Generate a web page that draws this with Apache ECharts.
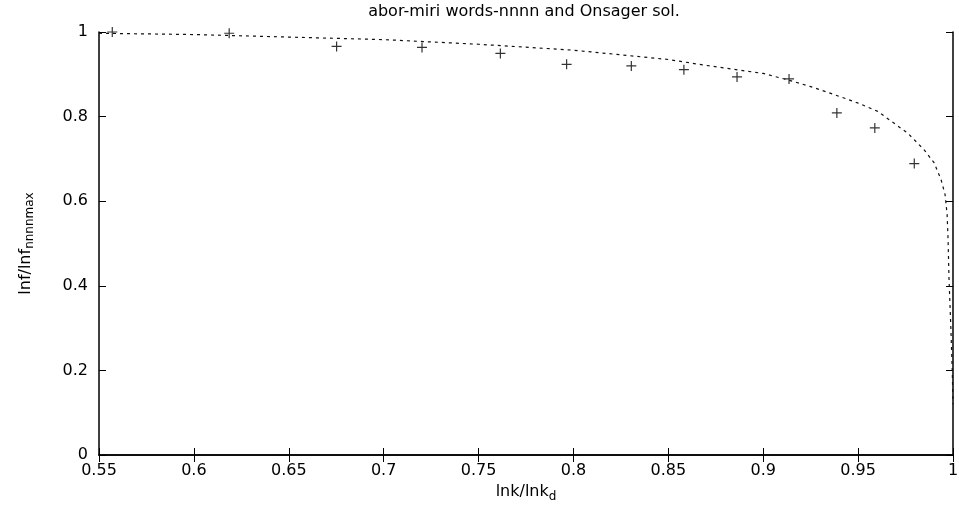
<!DOCTYPE html>
<html lang="en">
  <head>
    <meta charset="UTF-8" />
    <title>abor-miri words-nnnn and Onsager sol.</title>
    <style>
      * {
        margin: 0;
        padding: 0;
        box-sizing: border-box;
      }
      #main {
        width: 959px;
        height: 506px;
        background-color: #fff;
      }
    </style>
  </head>
  <body>
    <div id="main"></div>
    <script src="https://cdn.jsdelivr.net/npm/echarts@6/dist/echarts.min.js"></script>
    <script>
      const myChart = echarts.init(document.getElementById("main"));

      // measured points (lnk/lnk_d, lnf/lnf_max)
      const wordX = [0.557, 0.6186, 0.6752, 0.7202, 0.7615, 0.7964, 0.8305, 0.8582, 0.8862, 0.9136, 0.9388, 0.9588, 0.9796];
      const wordY = [1.0, 0.997, 0.966, 0.9636, 0.9494, 0.9235, 0.9197, 0.911, 0.8937, 0.889, 0.8086, 0.7732, 0.6889];

      // Onsager curve
      const onsagerX = [0.55, 0.6, 0.65, 0.7, 0.75, 0.8, 0.85, 0.87, 0.9, 0.9128, 0.925, 0.9374, 0.95, 0.9603, 0.9761, 0.9847, 0.99, 0.9937, 0.9958, 0.9969, 0.9974, 0.9979, 0.9989, 0.9996, 1.0];
      const onsagerY = [0.997, 0.994, 0.988, 0.982, 0.971, 0.957, 0.935, 0.921, 0.902, 0.887, 0.871, 0.852, 0.832, 0.8124, 0.761, 0.722, 0.691, 0.651, 0.616, 0.569, 0.51, 0.416, 0.297, 0.2, 0.12];

      const font = "DejaVu Sans";
      const tickStyle = { show: true, inside: true, length: 7, lineStyle: { color: "#000", width: 1 } };
      const lineStyle = { color: "#000", width: 1.5 };

      const option = {
        animation: false,
        title: {
          text: "abor-miri words-nnnn and Onsager sol.",
          left: 519,
          textAlign: "center",
          top: -1,
          textStyle: { fontFamily: font, fontSize: 16, fontWeight: "normal", color: "#000" },
        },
        grid: { left: 99, right: 6, top: 32, bottom: 51, outerBoundsMode: "none" },
        xAxis: [
          {
            type: "value",
            min: 0.55,
            max: 1,
            interval: 0.05,
            axisLine: { lineStyle: lineStyle },
            axisTick: tickStyle,
            splitLine: { show: false },
            axisLabel: {
              color: "#000",
              fontFamily: font,
              fontSize: 16,
              margin: 8,
              formatter: (v) => String(+v.toFixed(2)),
            },
            name: "{a|lnk/lnk}{b|d}",
            nameLocation: "middle",
            nameGap: 25,
            nameTextStyle: {
              rich: {
                a: { fontFamily: font, fontSize: 16, color: "#000" },
                b: { fontFamily: font, fontSize: 12, color: "#000", padding: [9, 0, 0, 0] },
              },
            },
          },
          {
            type: "value",
            position: "top",
            min: 0.55,
            max: 1,
            interval: 0.05,
            axisLine: { show: true, lineStyle: lineStyle },
            axisTick: tickStyle,
            axisLabel: { show: false },
            splitLine: { show: false },
          },
        ],
        yAxis: [
          {
            type: "value",
            min: 0,
            max: 1,
            interval: 0.2,
            axisLine: { show: true, lineStyle: lineStyle },
            axisTick: tickStyle,
            splitLine: { show: false },
            axisLabel: {
              color: "#000",
              fontFamily: font,
              fontSize: 16,
              margin: 11,
              formatter: (v) => String(+v.toFixed(1)),
            },
            name: "{a|lnf/lnf}{b|nnnnmax}",
            nameLocation: "middle",
            nameGap: 63,
            nameTextStyle: {
              rich: {
                a: { fontFamily: font, fontSize: 16, color: "#000" },
                b: { fontFamily: font, fontSize: 12, color: "#000", padding: [9, 0, 0, 0] },
              },
            },
          },
          {
            type: "value",
            position: "right",
            min: 0,
            max: 1,
            interval: 0.2,
            axisLine: { show: true, lineStyle: lineStyle },
            axisTick: tickStyle,
            axisLabel: { show: false },
            splitLine: { show: false },
          },
        ],
        series: [
          {
            name: "Onsager",
            type: "line",
            xAxisIndex: 0,
            yAxisIndex: 0,
            showSymbol: false,
            lineStyle: { color: "#111", width: 1.2, type: [3, 4] },
            data: onsagerX.map((x, i) => [x, onsagerY[i]]),
            z: 2,
          },
          {
            name: "words",
            type: "scatter",
            xAxisIndex: 0,
            yAxisIndex: 0,
            symbol: "path://M4.4,0h1.2v4.4h4.4v1.2h-4.4v4.4h-1.2v-4.4h-4.4v-1.2h4.4z",
            symbolSize: 10,
            itemStyle: { color: "#000" },
            data: wordX.map((x, i) => [x, wordY[i]]),
            z: 3,
          },
        ],
      };
      myChart.setOption(option);
    </script>
  </body>
</html>
